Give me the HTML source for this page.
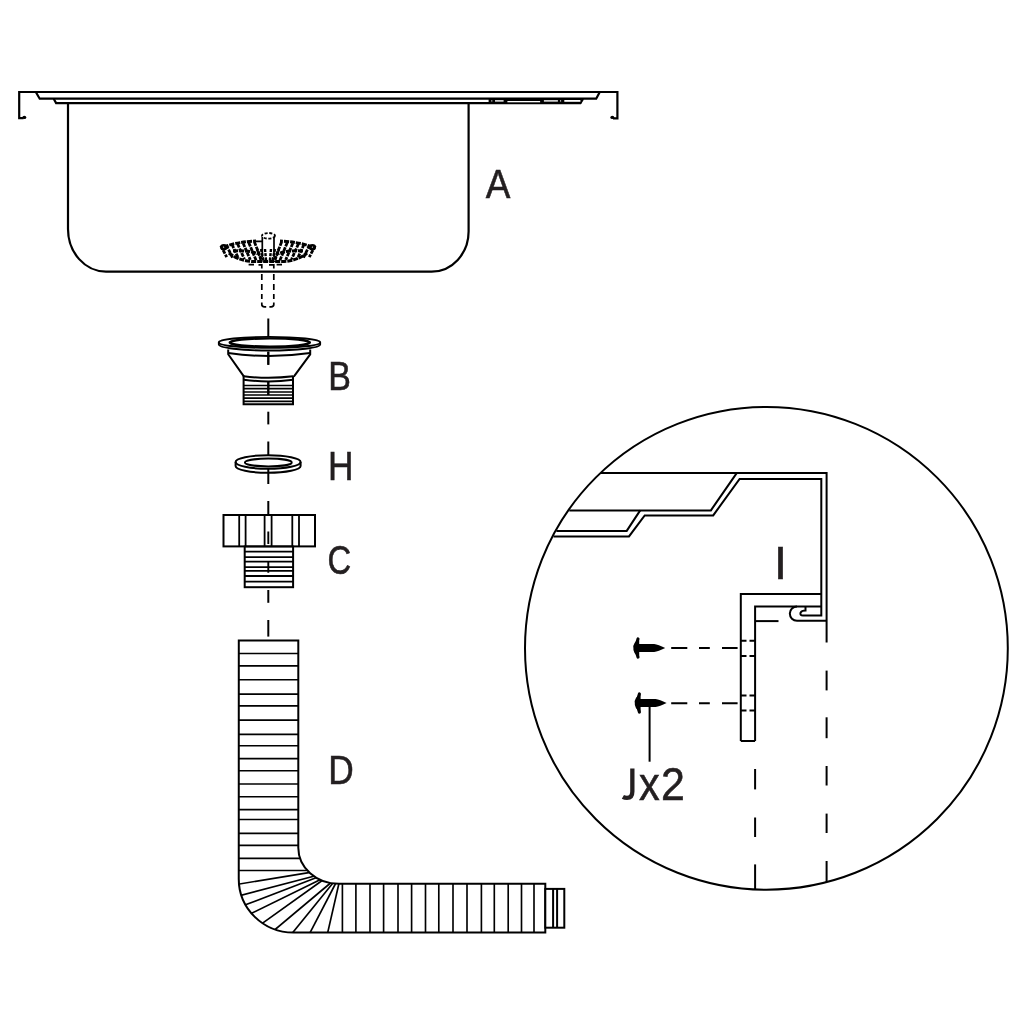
<!DOCTYPE html>
<html><head><meta charset="utf-8"><style>
html,body{margin:0;padding:0;background:#fff;width:1024px;height:1024px;overflow:hidden}
svg{display:block;font-family:"Liberation Sans",sans-serif;will-change:transform}
</style></head><body>
<svg width="1024" height="1024" viewBox="0 0 1024 1024">
<g fill="none" stroke="#000" stroke-width="2.2" stroke-linejoin="miter">
<path d="M23.5,118.2 H19.2 V92 H617.4 V118.4 H613"/>
<path d="M35.8,92 L39.7,98.7 H596.2 L599.8,92"/>
<path d="M53.7,98.7 L56.1,103.1 H580.4 L583,98.9"/>
<path d="M68,103.1 V229 A38,42.6 0 0 0 106,271.6 H431.6 A37,40 0 0 0 468.6,231.6 V103.1"/>
</g>
<ellipse cx="24.3" cy="117.4" rx="2" ry="1.7" fill="#000"/>
<ellipse cx="612.3" cy="117.4" rx="2" ry="1.7" fill="#000"/>
<rect x="488.6" y="98.7" width="93" height="4.6" fill="#000"/>
<rect x="491.3" y="100.3" width="1.0" height="1.2" fill="#fff"/>
<rect x="495" y="100.2" width="8.6" height="1.4" fill="#fff"/>
<rect x="507.4" y="101" width="32.7" height="1.3" fill="#fff"/>
<rect x="543.9" y="100.2" width="14.0" height="1.4" fill="#fff"/>
<rect x="560.1" y="100.3" width="1.0" height="1.2" fill="#fff"/>
<rect x="564.3" y="100" width="16.1" height="1.8" fill="#fff"/>
<g fill="none" stroke="#000" stroke-width="3" stroke-dasharray="5 1">
<path d="M224,247 Q236,242 256,241"/>
<path d="M312,247 Q300,242 280,241"/>
<path d="M229,253 Q238,260.5 252,261.5 H284 Q298,260.5 307,253"/>
<path d="M233,251 Q250,250 258,254"/>
<path d="M303,251 Q286,250 278,254"/>
</g>
<ellipse cx="223.8" cy="247.2" rx="2.4" ry="2" fill="none" stroke="#000" stroke-width="2.4"/>
<ellipse cx="312.4" cy="247.2" rx="2.4" ry="2" fill="none" stroke="#000" stroke-width="2.4"/>
<g fill="none" stroke="#000" stroke-width="2.8" stroke-dasharray="4 1">
<path d="M254.4,242.1 L262.1,261.3"/>
<path d="M281.6,242.1 L273.9,261.3"/>
<path d="M248.8,242.7 L256.2,260.6"/>
<path d="M287.2,242.7 L279.8,260.6"/>
<path d="M243.2,243.3 L250.3,259.9"/>
<path d="M292.8,243.3 L285.7,259.9"/>
<path d="M237.6,243.9 L244.4,259.2"/>
<path d="M298.4,243.9 L291.6,259.2"/>
<path d="M232.0,244.5 L238.5,258.5"/>
<path d="M304.0,244.5 L297.5,258.5"/>
<path d="M226.4,245.1 L232.6,257.8"/>
<path d="M309.6,245.1 L303.4,257.8"/>
<path d="M220.8,245.7 L226.7,257.1"/>
<path d="M315.2,245.7 L309.3,257.1"/>
</g>
<g fill="none" stroke="#000" stroke-width="2.4" stroke-dasharray="3 1.2">
<path d="M257,249 L261.4,262"/>
<path d="M261,249 L263.8,262"/>
<path d="M265,249 L266.2,262"/>
<path d="M271,249 L269.8,262"/>
<path d="M275,249 L272.2,262"/>
<path d="M279,249 L274.6,262"/>
</g>
<g fill="none" stroke="#000" stroke-width="1.8" stroke-dasharray="3 1.6">
<ellipse cx="268.5" cy="235.8" rx="6.5" ry="2.8"/>
</g>
<g fill="none" stroke="#000" stroke-width="1.7">
<path d="M262.3,237 V257 M274,237 V257 M255,241.3 H262"/>
<path d="M248.6,264.6 H254 M282,264.6 H276.6"/>
</g>
<g fill="none" stroke="#000" stroke-width="1.7">
<path d="M261.8,274 V280 M273.8,274 V280"/>
<path d="M261.8,284 V290 M273.8,284 V290"/>
<path d="M261.8,294 V299 M273.8,294 V299"/>
<path d="M261.8,302.5 V304.5 Q261.8,306.8 264.5,306.8 H266.2 M273.8,302.5 V304.5 Q273.8,306.8 271.1,306.8 H269.4"/>
<path d="M258.5,264.8 H261.8 V268.5 M269,264.8 H273.8 V268.5"/>
</g>
<g stroke="#000" stroke-width="2" fill="none">
<path d="M268.3,318.5 V336.7"/>
<path d="M268.3,351.7 V364.8"/>
<path d="M268.3,382 V395"/>
<path d="M268.3,411.7 V424.4"/>
<path d="M268.3,441.5 V455.2"/>
<path d="M268.3,472.8 V484"/>
<path d="M268.3,501 V514.5"/>
<path d="M268.3,531.4 V543.9"/>
<path d="M268.3,561 V572.8"/>
<path d="M268.3,590 V602.8"/>
<path d="M268.3,620 V636.6"/>
</g>
<g fill="none" stroke="#000" stroke-width="2">
<path d="M218.8,342.4 V344.5 A50.7,6 0 0 0 320.2,344.5 V342.4" fill="#fff" stroke-width="1.8"/>
<ellipse cx="269.5" cy="342.4" rx="50.7" ry="5.5" fill="#fff" stroke-width="1.9"/>
<ellipse cx="269.8" cy="342.5" rx="40.1" ry="4.1" stroke-width="2.4"/>
<path d="M228.2,349.5 V354.3 L244,376.6 M310.2,349.5 V354.3 L293.8,376.6"/>
<path d="M228.2,353 Q269,359 310.2,353"/>
<path d="M243.8,376.3 Q268.5,379.3 293.2,376.3"/>
<path d="M243.8,379.8 Q268.5,383 293.2,379.8"/>
<path d="M243.6,376 V404.3 H293 V376"/>
</g>
<path d="M243.6,385.5 H293" stroke="#000" stroke-width="1.7"/>
<path d="M243.6,388.7 H293" stroke="#000" stroke-width="1.7"/>
<path d="M243.6,392 H293" stroke="#000" stroke-width="1.7"/>
<path d="M243.6,395 H293" stroke="#000" stroke-width="1.7"/>
<path d="M243.6,398.1 H293" stroke="#000" stroke-width="1.7"/>
<path d="M243.6,401.3 H293" stroke="#000" stroke-width="1.7"/>
<path d="M268.3,351.7 V364.8" stroke="#000" stroke-width="2"/>
<path d="M268.3,381.5 V395" stroke="#000" stroke-width="2"/>
<g fill="none" stroke="#000" stroke-width="2">
<path d="M235.6,462 A32.5,6.8 0 0 1 300.6,462 V466 A32.5,6.8 0 0 1 235.6,466 Z" fill="#fff"/>
<path d="M235.6,462 A32.5,6.8 0 0 0 300.6,462"/>
<ellipse cx="268.3" cy="462.5" rx="23.4" ry="3.9"/>
</g>
<path d="M268.3,468.8 V473" stroke="#000" stroke-width="2"/>
<g fill="none" stroke="#000" stroke-width="2">
<rect x="223.5" y="515" width="91.5" height="31.4" fill="#fff"/>
<path d="M239.2,515 V546.4" stroke-width="1.8"/>
<path d="M245.6,515 V546.4" stroke-width="1.8"/>
<path d="M264.6,515 V546.4" stroke-width="1.8"/>
<path d="M271.6,515 V546.4" stroke-width="1.8"/>
<path d="M292.3,515 V546.4" stroke-width="1.8"/>
<path d="M299,515 V546.4" stroke-width="1.8"/>
<rect x="244.7" y="546.6" width="48.4" height="40.6" fill="#fff"/>
</g>
<path d="M244.7,551.7 H293.1" stroke="#000" stroke-width="1.8"/>
<path d="M244.7,557.2 H293.1" stroke="#000" stroke-width="1.8"/>
<path d="M244.7,561.7 H293.1" stroke="#000" stroke-width="1.8"/>
<path d="M244.7,567.2 H293.1" stroke="#000" stroke-width="1.8"/>
<path d="M244.7,570.8 H293.1" stroke="#000" stroke-width="1.8"/>
<path d="M244.7,576 H293.1" stroke="#000" stroke-width="1.8"/>
<path d="M244.7,581.6 H293.1" stroke="#000" stroke-width="1.8"/>
<path d="M268.3,531.4 V543.9 M268.3,561 V572.8" stroke="#000" stroke-width="1.9"/>
<defs><clipPath id="hc"><path d="M238.8,640.4 H298.3 V847.7 A40.45,36 0 0 0 338.75,883.7 H545.3 V932.6 H293.4 A54.65,53.7 0 0 1 238.75,879 Z"/></clipPath></defs>
<path d="M238.8,640.4 H298.3 V847.7 A40.45,36 0 0 0 338.75,883.7 H545.3 V932.6 H293.4 A54.65,53.7 0 0 1 238.75,879 Z" fill="#fff"/>
<g fill="none" stroke="#000" stroke-width="1.65" clip-path="url(#hc)">
<path d="M230,653.5 H330"/>
<path d="M230,665.8 H330"/>
<path d="M230,679.7 H330"/>
<path d="M230,694.1 H330"/>
<path d="M230,705.8 H330"/>
<path d="M230,720.1 H330"/>
<path d="M230,734.3 H330"/>
<path d="M230,745.7 H330"/>
<path d="M230,758.6 H330"/>
<path d="M230,770.7 H330"/>
<path d="M230,784 H330"/>
<path d="M230,796.7 H330"/>
<path d="M230,809.6 H330"/>
<path d="M230,819.5 H330"/>
<path d="M230,833.4 H330"/>
<path d="M230,845.3 H330"/>
<path d="M230,858.3 H330"/>
<path d="M230,870.5 H330"/>
<path d="M311.9,872.1 L233.4,885.0"/>
<path d="M316.6,875.5 L235.8,896.7"/>
<path d="M319.3,876.6 L240.7,906.6"/>
<path d="M322.6,878.5 L247.4,915.3"/>
<path d="M325.0,878.5 L258.4,926.2"/>
<path d="M334.7,879.5 L271.0,933.0"/>
<path d="M336.2,878.9 L289.4,936.7"/>
<path d="M338.2,878.5 L307.4,937.8"/>
<path d="M340.2,878.0 L326.4,938.3"/>
<path d="M342.4,870 V940"/>
<path d="M355.9,870 V940"/>
<path d="M370,870 V940"/>
<path d="M383.6,870 V940"/>
<path d="M398,870 V940"/>
<path d="M411.6,870 V940"/>
<path d="M425.5,870 V940"/>
<path d="M438.8,870 V940"/>
<path d="M453,870 V940"/>
<path d="M467,870 V940"/>
<path d="M481.4,870 V940"/>
<path d="M494.3,870 V940"/>
<path d="M508.2,870 V940"/>
<path d="M521.5,870 V940"/>
<path d="M534,870 V940"/>
</g>
<g fill="none" stroke="#000" stroke-width="2">
<path d="M238.8,640.4 H298.3 V847.7 A40.45,36 0 0 0 338.75,883.7 H545.3 V932.6 H293.4 A54.65,53.7 0 0 1 238.75,879 Z"/>
<rect x="545.3" y="888.9" width="19" height="38.8" fill="#fff"/>
<path d="M553.1,888.9 V927.7 M557.1,888.9 V927.7"/>
</g>
<circle cx="766.4" cy="648.3" r="241.4" fill="none" stroke="#000" stroke-width="2"/>
<g fill="none" stroke="#000" stroke-width="2" stroke-linejoin="miter">
<path d="M601,473.1 H826.6 V642.5"/>
<path d="M569.3,510.4 H710.9 L736.7,473.1"/>
<path d="M640.2,510.4 L626.7,530.9 H556.4"/>
<path d="M553.5,536.4 H629 L644.7,515.4 H713.2 L739.6,478.9 H821.3 V615.6 H803 Q799.8,615.6 800.6,612.6 Q801.6,610.6 805.5,610.6 V606.4"/>
<path d="M740.8,741 V594.1 H821.3"/>
<path d="M755.1,741 V606.4 H821.3"/>
<path d="M740.8,741 H755.1"/>
<path d="M797,606.4 A7.2,7.2 0 0 0 797,620.8 H826.6"/>
<path d="M755.1,621.1 H778.5"/>
<path d="M741,640.7 H746.5 M749.5,640.7 H755"/>
<path d="M741,655.9 H746.5 M749.5,655.9 H755"/>
<path d="M741,695.4 H746.5 M749.5,695.4 H755"/>
<path d="M741,710.6 H746.5 M749.5,710.6 H755"/>
<path d="M671.2,648.1 H687.3 M699,648.1 H709.8 M722,648.1 H737.6"/>
<path d="M671.2,703.2 H687.3 M699,703.2 H709.8 M722,703.2 H737.6"/>
<path d="M826.6,670.6 V690.4"/>
<path d="M826.6,717.3 V738.2"/>
<path d="M826.6,766 V785.5"/>
<path d="M826.6,813.6 V833"/>
<path d="M826.6,861 V882"/>
<path d="M755.1,769 V789.4"/>
<path d="M755.1,817.5 V837"/>
<path d="M755.1,864.4 V889"/>
<path d="M649.6,706 V761.7"/>
</g>
<path d="M639.2,638.8 Q632.6,643 633.4000000000001,648 Q632.6,653 639.2,657.2 Z" fill="#000"/><path d="M638.0,638.8 Q634.2,648 638.0,657.2" fill="none" stroke="#000" stroke-width="3" stroke-linecap="round"/><path d="M638.2,644 H654.2 Q658.2,644.5 665.2,648 Q658.2,651.5 654.2,652 H638.2 Z" fill="#000"/>
<path d="M640.6,693.8 Q634.0,698 634.8000000000001,703 Q634.0,708 640.6,712.2 Z" fill="#000"/><path d="M639.4,693.8 Q635.6,703 639.4,712.2" fill="none" stroke="#000" stroke-width="3" stroke-linecap="round"/><path d="M639.6,699 H655.6 Q659.6,699.5 666.6,703 Q659.6,706.5 655.6,707 H639.6 Z" fill="#000"/>
<text transform="translate(485.8,198.4) scale(0.923,1)" font-size="40" fill="#231f20" stroke="#231f20" stroke-width="0.55" >A</text>
<text transform="translate(328.2,390.2) scale(0.85,1)" font-size="40" fill="#231f20" stroke="#231f20" stroke-width="0.55" >B</text>
<text transform="translate(328.05,479.9) scale(0.883,1)" font-size="40" fill="#231f20" stroke="#231f20" stroke-width="0.55" >H</text>
<text transform="translate(327.4,574.3) scale(0.82,1)" font-size="40" fill="#231f20" stroke="#231f20" stroke-width="0.55" >C</text>
<text transform="translate(328.35,783.6) scale(0.883,1)" font-size="40" fill="#231f20" stroke="#231f20" stroke-width="0.55" >D</text>
<text transform="translate(774,578.5) scale(1.0,1)" font-size="46.8" fill="#231f20" stroke="#231f20" stroke-width="0.55" >I</text>
<path d="M632.35,768.5 V791.5 Q632.35,797.9 627,797.9 Q624.6,797.9 622.9,796.9" fill="none" stroke="#231f20" stroke-width="4.3"/>
<text transform="translate(639,800) scale(0.9,1)" font-size="46" fill="#231f20" stroke="#231f20" stroke-width="0.55" >x</text>
<text transform="translate(661.1,800) scale(0.933,1)" font-size="46" fill="#231f20" stroke="#231f20" stroke-width="0.55" >2</text>
</svg>
</body></html>
